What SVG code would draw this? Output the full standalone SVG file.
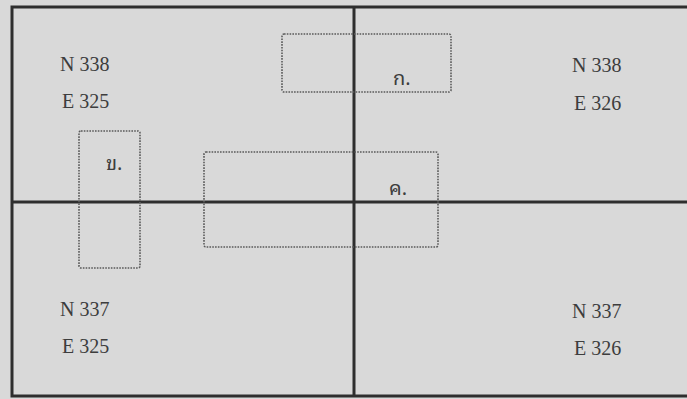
<svg xmlns="http://www.w3.org/2000/svg" width="687" height="399" viewBox="0 0 687 399">
<style>
.grid{fill:none;stroke:#2e2e2e;stroke-width:3}
.zone{fill:none;stroke:#5a5a5a;stroke-width:1.6;stroke-dasharray:1.6 1.2}
.t{font-family:"Liberation Serif","DejaVu Serif",serif;font-size:20px;fill:#3d3d3d}
.th{font-family:"Noto Sans Thai Looped","Noto Serif Thai","Noto Sans Thai","Noto Sans",sans-serif;font-size:20px;fill:#3d3d3d}
</style>
<rect width="687" height="399" fill="#d9d9d9"/>
<g id="frame">
<rect class="grid" x="12" y="7" width="678" height="389"/>
<line class="grid" x1="354" y1="7" x2="354" y2="396"/>
<line class="grid" x1="12" y1="202" x2="687" y2="202"/>
</g>
<g id="sheet-nw"><text class="t" x="60" y="71">N 338</text><text class="t" x="62" y="108">E 325</text></g>
<g id="sheet-ne"><text class="t" x="572" y="72">N 338</text><text class="t" x="574" y="110">E 326</text></g>
<g id="sheet-sw"><text class="t" x="60" y="316">N 337</text><text class="t" x="62" y="353">E 325</text></g>
<g id="sheet-se"><text class="t" x="572" y="318">N 337</text><text class="t" x="574" y="355">E 326</text></g>
<g id="zone-ko"><rect class="zone" x="282" y="34" width="169" height="58" rx="2"/><text class="th" x="393" y="85">ก.</text></g>
<g id="zone-kho"><rect class="zone" x="79" y="131" width="61" height="137" rx="2"/><text class="th" x="106" y="170">ข.</text></g>
<g id="zone-kho-khwai"><rect class="zone" x="204" y="152" width="234" height="95" rx="2"/><text class="th" x="389" y="195">ค.</text></g>
</svg>
